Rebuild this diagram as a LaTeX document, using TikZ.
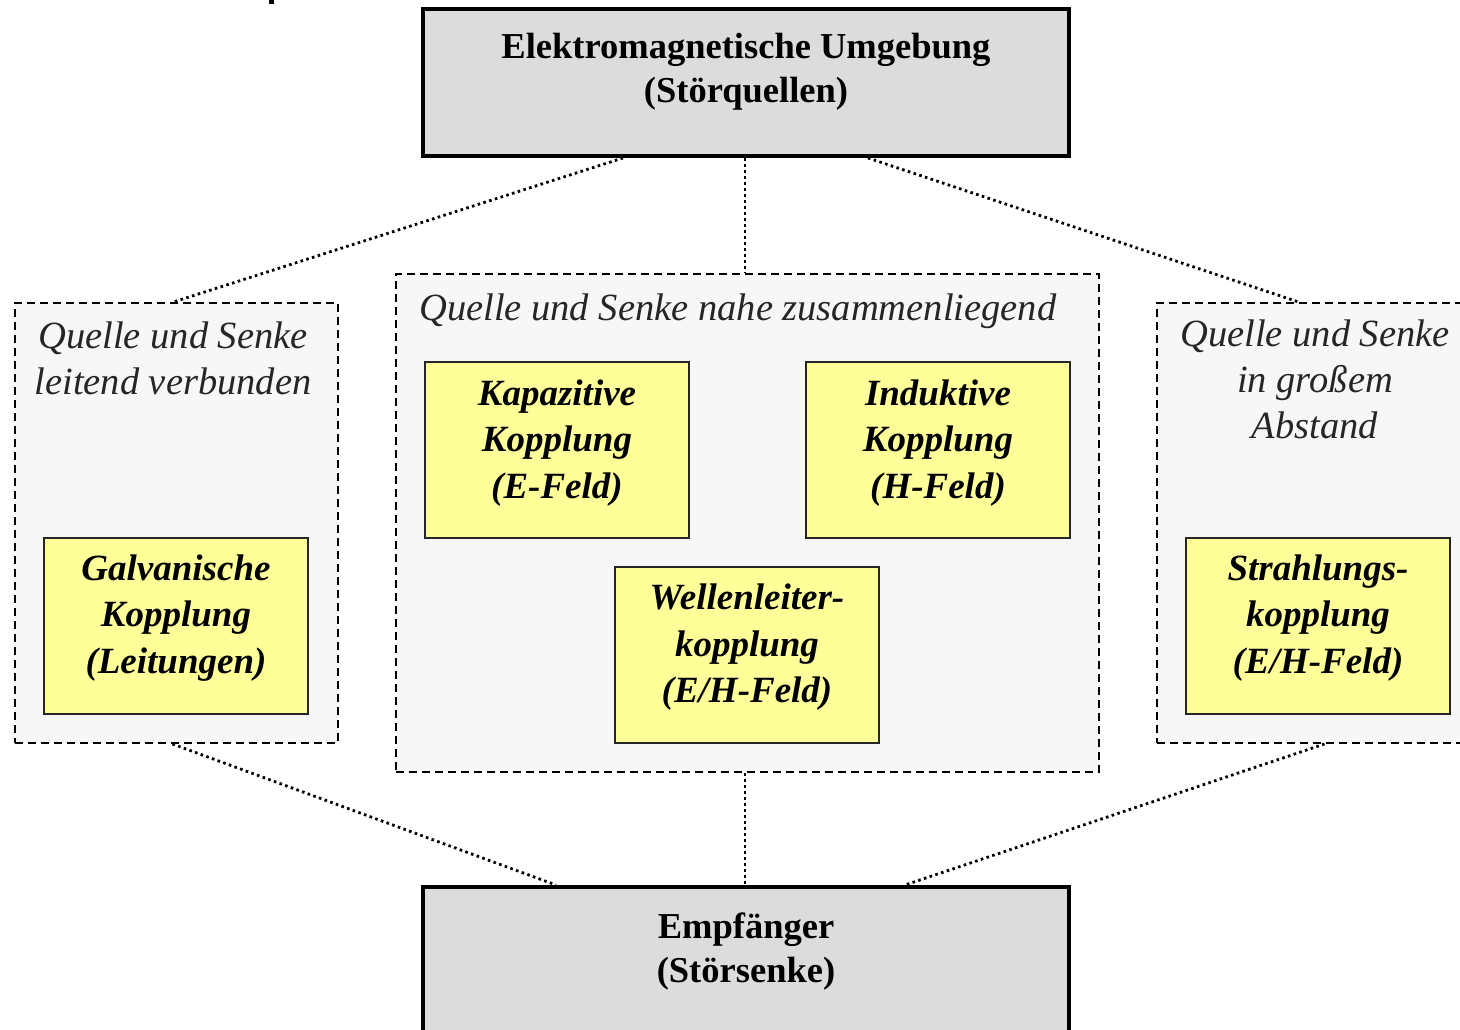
\documentclass[tikz,border=0pt]{standalone}
\usepackage{fontspec}
\setmainfont{Liberation Serif}
\usetikzlibrary{calc}
\definecolor{envgray}{RGB}{220,220,220}
\definecolor{zonefill}{RGB}{247,247,247}
\definecolor{couplefill}{RGB}{255,255,153}
\begin{document}
\begin{tikzpicture}[x=1pt,y=-1pt,
  endbox/.style={draw=black,line width=4pt,fill=envgray,inner sep=0,minimum width=646pt},
  zone/.style={draw=black,line width=2pt,dash pattern=on 8pt off 5pt,fill=zonefill,inner sep=0},
  couple/.style={draw=black!85,line width=2pt,fill=couplefill,inner sep=0,minimum width=264pt,minimum height=176pt},
  headtxt/.style={font=\fontsize{36.5}{44}\selectfont\bfseries,align=center,inner sep=0},
  zonetxt/.style={font=\fontsize{38.5}{46}\selectfont\itshape,text=black!85,align=center,inner sep=0},
  coupletxt/.style={font=\fontsize{37}{46.5}\selectfont\bfseries\itshape,align=center,inner sep=0},
  link/.style={line width=2.8pt,dash pattern=on 2.6pt off 3.4pt}]
\useasboundingbox (0,0) rectangle (1460,1030);
\clip (0,0) rectangle (1460,1030);

% stray glyph fragment at the upper edge
\fill (269,0) rectangle (274,4);

% source and sink
\node[endbox,minimum height=147pt] (src) at (746,82.5) {};
\node[endbox,minimum height=156pt] (snk) at (746,965) {};
\node[headtxt] (srctxt) at (746,72) {Elektromagnetische Umgebung\\(Störquellen)};
\node[headtxt] (snktxt) at (746,951.5) {Empfänger\\(Störsenke)};

% coupling zones
\node[zone,minimum width=323pt,minimum height=440pt] (zl) at (176.5,523) {};
\node[zone,minimum width=703pt,minimum height=498pt] (zc) at (747.5,523) {};
\node[zone,minimum width=323pt,minimum height=440pt] (zr) at (1318.5,523) {};

\node[zonetxt] (zltxt) at (173,358) {Quelle und Senke\\leitend verbunden};
\node[zonetxt,anchor=west] (zctxt) at (419,311) {Quelle und Senke nahe zusammenliegend};
\node[zonetxt] (zrtxt) at (1315,379) {Quelle und Senke\\in großem\\Abstand};

% coupling mechanisms
\node[couple] (gal) at (176,626) {};
\node[couple] (kap) at (557,450) {};
\node[couple] (ind) at (938,450) {};
\node[couple] (wel) at (747,655) {};
\node[couple] (str) at (1318,626) {};

\node[coupletxt] (galtxt) at (176,618) {Galvanische\\Kopplung\\(Leitungen)};
\node[coupletxt] (kaptxt) at (557,443) {Kapazitive\\Kopplung\\(E-Feld)};
\node[coupletxt] (indtxt) at (938,443) {Induktive\\Kopplung\\(H-Feld)};
\node[coupletxt] (weltxt) at (747,647.5) {Wellenleiter-\\kopplung\\(E/H-Feld)};
\node[coupletxt] (strtxt) at (1318,618) {Strahlungs-\\kopplung\\(E/H-Feld)};

% dotted links
\draw[link] ($(src.south)+(-123,0)$) -- ($(zl.north)+(-3,0)$);
\draw[link] ($(src.south)+(-1,0)$) -- ($(zc.north)+(-2.5,0)$);
\draw[link] ($(src.south)+(122,0)$) -- ($(zr.north)+(-20,0)$);
\draw[link] ($(zl.south)+(-4,0)$) -- ($(snk.north)+(-190,0)$);
\draw[link] ($(zc.south)+(-2.5,0)$) -- ($(snk.north)+(-1,0)$);
\draw[link] ($(zr.south)+(6,0)$) -- ($(snk.north)+(159,0)$);
\end{tikzpicture}
\end{document}
